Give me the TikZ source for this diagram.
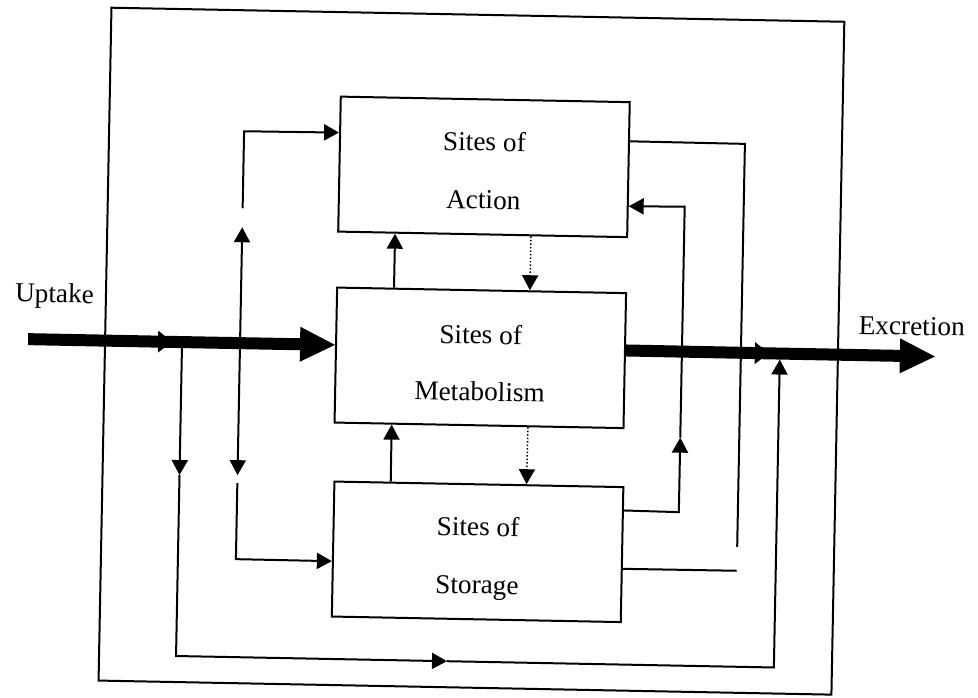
\documentclass[tikz,border=0pt]{standalone}
\usepackage{fontspec}
\setmainfont{Liberation Serif}
\usetikzlibrary{arrows.meta,calc}
\begin{document}
\begin{tikzpicture}[x=1pt,y=-1pt,
  outerframe/.style={draw, line width=2pt, inner sep=0pt, minimum width=733pt, minimum height=673pt},
  box/.style={draw, line width=2pt, inner sep=0pt, minimum width=289pt, minimum height=135pt},
  lbl/.style={font=\fontsize{27.3}{30}\selectfont, inner sep=0pt, anchor=base},
  sidelbl/.style={font=\fontsize{27.3}{30}\selectfont, inner sep=0pt, anchor=base west},
  conn/.style={line width=2pt, line join=miter},
  tipped/.style={-{Triangle[length=15pt,width=16pt]}},
  twoway/.style={{Triangle[length=15pt,width=16pt]}-{Triangle[length=15pt,width=16pt]}},
  dotline/.style={line width=1.5pt, dash pattern=on 1.5pt off 2pt},
  thickflow/.style={line width=12pt},
  bigtip/.style={-{Triangle[length=35pt,width=35pt,line width=0pt]}},
  midtip/.style={-{Triangle[length=14pt,width=22pt,line width=0pt]}},
]
\useasboundingbox (0,0) rectangle (978,697);
\begin{scope}[rotate around={-1.1:(489,348)}, transform shape]
  % frame and boxes
  \node[outerframe] (body) at (471.5,351.5) {};
  \node[box] (act) at (480.5,167) {};
  \node[box] (met) at (480.5,358) {};
  \node[box] (sto) at (481.5,552) {};
  % box texts
  \node[lbl] (act1) at (480.5,151) {Sites of};
  \node[lbl] (act2) at (480.5,209) {Action};
  \node[lbl] (met1) at (480.5,344) {Sites of};
  \node[lbl] (met2) at (480.5,401) {Metabolism};
  \node[lbl] (sto1) at (481.5,536) {Sites of};
  \node[lbl] (sto2) at (481.5,594) {Storage};
  \node[sidelbl] (uptake) at (14,311) {Uptake};
  \node[sidelbl] (excretion) at (858,327) {Excretion};
  % free points
  \coordinate (upin) at (28,348);
  \coordinate (upmid) at (172,348);
  \coordinate (upmidB) at (162,348);
  \coordinate (exmid) at (769,348);
  \coordinate (exmidB) at (759,348);
  \coordinate (exout) at (935,348);
  \coordinate (drop) at (182,348);
  \coordinate (dropA) at (182,481);
  \coordinate (blc) at (182,662);
  \coordinate (botmid) at (453,662);
  \coordinate (brc) at (780,662);
  \coordinate (rise) at (780,354);
  \coordinate (dblT) at (240,232);
  \coordinate (dblB) at (240,480);
  \coordinate (upS) at (240,213);
  \coordinate (upC) at (240,136);
  \coordinate (loS) at (240,488);
  \coordinate (loC) at (240,564);
  \coordinate (rc1) at (682,508.5);
  \coordinate (rtip) at (682,434);
  \coordinate (rc2) at (682,203);
  \coordinate (ac1) at (741,139);
  \coordinate (aend) at (741,542);
  \coordinate (send) at (741,566);
  % main flow
  \draw[thickflow, midtip] (upin) -- (upmid);
  \draw[thickflow, bigtip] (upmidB) -- ($(met.north west)!0.426!(met.south west)$);
  \draw[thickflow, midtip] ($(met.north east)!0.426!(met.south east)$) -- (exmid);
  \draw[thickflow, bigtip] (exmidB) -- (exout);
  % bypass to excretion
  \draw[conn, tipped] (drop) -- (dropA);
  \draw[conn, tipped] (dropA) -- (blc) -- (botmid);
  \draw[conn, tipped] (botmid) -- (brc) -- (rise);
  % distribution
  \draw[conn, twoway] (dblT) -- (dblB);
  \draw[conn, tipped] (upS) -- (upC) -- ($(act.north west)!0.27!(act.south west)$);
  \draw[conn, tipped] (loS) -- (loC) -- ($(sto.north west)!0.589!(sto.south west)$);
  % between boxes
  \draw[conn, tipped] ($(met.north west)!0.199!(met.north east)$) -- ($(act.south west)!0.199!(act.south east)$);
  \draw[dotline, tipped] ($(act.south west)!0.666!(act.south east)$) -- ($(met.north west)!0.666!(met.north east)$);
  \draw[conn, tipped] ($(sto.north west)!0.197!(sto.north east)$) -- ($(met.south west)!0.2!(met.south east)$);
  \draw[dotline, tipped] ($(met.south west)!0.668!(met.south east)$) -- ($(sto.north west)!0.664!(sto.north east)$);
  % right side returns
  \draw[conn, tipped] ($(sto.north east)!0.178!(sto.south east)$) -- (rc1) -- (rtip);
  \draw[conn, tipped] (rtip) -- (rc2) -- ($(act.north east)!0.767!(act.south east)$);
  \draw[conn] ($(act.north east)!0.293!(act.south east)$) -- (ac1) -- (aend);
  \draw[conn] ($(sto.north east)!0.604!(sto.south east)$) -- (send);
\end{scope}
\end{tikzpicture}
\end{document}
